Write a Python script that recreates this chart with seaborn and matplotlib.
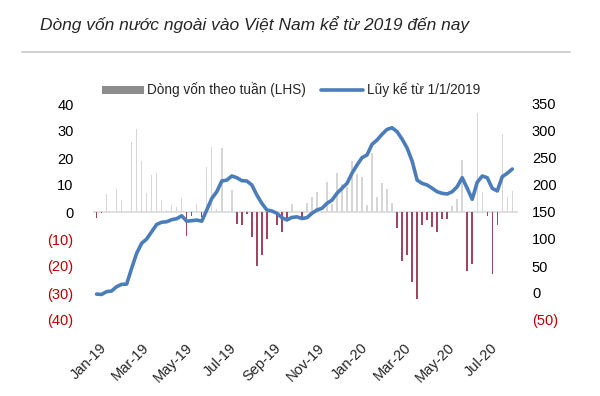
import matplotlib
matplotlib.use("Agg")
import matplotlib.pyplot as plt
import matplotlib.dates as mdates
from matplotlib.lines import Line2D
from matplotlib.patches import Patch
import pandas as pd
import seaborn as sns

# ---- Data ----
week_start = "2018-12-28"

weekly_flow = [-2.2, -0.5, 6.8, 0.0, 8.6, 4.6, 0.0, 25.9, 30.9, 18.8,
               7.0, 13.6, 14.4, 4.6, 0.6, 2.7, 1.7, 5.2, -9.0, -1.5,
               2.8, -1.9, 16.7, 24.0, 1.0, 23.7, 0.0, 8.0, -4.3, -4.9,
               -0.6, -9.3, -20.0, -16.0, -9.9, 0.0, -4.7, -7.4, -3.3, 3.1,
               0.0, -2.0, 3.5, 5.6, 7.4, 0.0, 11.1, 3.1, 14.6, 10.5,
               9.3, 18.8, 14.0, 13.0, 2.5, 21.9, 5.6, 10.7, 8.6, 3.5,
               -5.8, -18.2, -16.0, -26.0, -32.2, -4.8, -3.0, -5.5, -7.5, -2.7,
               -2.7, 2.2, 5.0, 19.2, -21.8, -19.3, 36.5, 7.4, -1.5, -23.0,
               -4.8, 28.8, 5.5, 7.6]

cumulative = [-2.0, -2.7, 2.5, 3.7, 11.7, 16.0, 16.5, 45.7, 73.5, 92.0,
              100.0, 113.5, 127.0, 131.0, 132.0, 135.8, 137.6, 143.0, 133.0, 134.0,
              135.0, 133.0, 153.7, 175.0, 187.6, 207.4, 209.0, 216.7, 213.5, 208.0,
              207.4, 200.0, 181.5, 166.0, 153.7, 151.9, 147.6, 139.5, 135.2, 140.0,
              141.0, 138.0, 139.5, 147.6, 153.7, 156.8, 166.0, 172.0, 184.6, 193.9,
              203.0, 221.7, 237.0, 250.6, 255.6, 275.4, 283.3, 293.9, 303.0, 306.0,
              298.7, 285.0, 268.5, 244.4, 209.0, 203.0, 200.0, 194.0, 187.6, 184.6,
              183.3, 187.6, 196.9, 213.5, 193.9, 173.5, 205.0, 216.7, 213.5, 193.9,
              189.0, 215.4, 221.7, 229.6]

left_ticks = [40, 30, 20, 10, 0, -10, -20, -30, -40]
right_ticks = [350, 300, 250, 200, 150, 100, 50, 0, -50]

title = "Dòng vốn nước ngoài vào Việt Nam kể từ 2019 đến nay"
bar_label = "Dòng vốn theo tuần (LHS)"
line_label = "Lũy kế từ 1/1/2019"

df = pd.DataFrame({
    "date": pd.date_range(week_start, periods=len(weekly_flow), freq="7D"),
    "flow": weekly_flow,
    "cum": cumulative,
})

# ---- Style ----
sns.set_theme(style="white")
plt.rcParams["font.family"] = ["Liberation Sans", "DejaVu Sans"]

red = "#c00000"
blue = "#4a7dba"
pos_col = "#d6d6d6"
neg_col = "#a34560"

fig = plt.figure(figsize=(6, 3.96), dpi=100)
ax = fig.add_axes([93 / 600, 1 - 320 / 396, 425 / 600, 216 / 396])

# weekly bars
colors = [pos_col if v >= 0 else neg_col for v in df["flow"]]
ax.bar(df["date"], df["flow"], width=2.0, color=colors, linewidth=0)
ax.axhline(0, color="#d9d9d9", lw=1.2, zorder=0)
ax.set_ylim(-40, 40)
ax.set_yticks(left_ticks)
ax.set_yticklabels([str(v) if v >= 0 else f"({-v})" for v in left_ticks], fontsize=10.5)
for lab, v in zip(ax.get_yticklabels(), left_ticks):
    lab.set_color(red if v < 0 else "black")
ax.tick_params(axis="y", length=0, pad=14)

# cumulative line on right axis
ax2 = ax.twinx()
sns.lineplot(data=df, x="date", y="cum", ax=ax2, color=blue, lw=2.6, legend=False)
ax2.set_ylim(-50, 350)
ax2.set_yticks(right_ticks)
ax2.set_yticklabels([str(v) if v >= 0 else f"({-v})" for v in right_ticks], fontsize=10.5)
for lab, v in zip(ax2.get_yticklabels(), right_ticks):
    lab.set_color(red if v < 0 else "black")
ax2.tick_params(axis="y", length=0, pad=10)
ax2.set_ylabel("")
ax2.set_xlabel("")

ax.set_xlim(pd.Timestamp("2018-12-23"), pd.Timestamp("2020-08-08"))
ax.xaxis.set_major_locator(mdates.MonthLocator(bymonth=[1, 3, 5, 7, 9, 11]))
ax.xaxis.set_major_formatter(mdates.DateFormatter("%b-%y"))
ax.tick_params(axis="x", length=0, pad=15, labelsize=10.5)
for lab in ax.get_xticklabels():
    lab.set_rotation(45)
    lab.set_ha("right")
    lab.set_rotation_mode("anchor")

for a in (ax, ax2):
    for s in a.spines.values():
        s.set_visible(False)

# title and rule
fig.text(40 / 600, 1 - 25 / 396, title, fontsize=12.5, style="italic",
         ha="left", va="center")
fig.add_artist(Line2D([22 / 600, 570 / 600], [1 - 52 / 396] * 2,
                      color="#c8c8c8", lw=1.2))

# legend
handles = [Patch(facecolor="#8c8c8c", edgecolor="none", label=bar_label),
           Line2D([0], [0], color=blue, lw=2.6, label=line_label)]
fig.legend(handles=handles, loc="center", bbox_to_anchor=(291 / 600, 1 - 90 / 396),
           ncol=2, frameon=False, fontsize=9.8, handlelength=3.1,
           handleheight=0.55, handletextpad=0.25, columnspacing=1.1)

fig.savefig("out.png", dpi=100)
